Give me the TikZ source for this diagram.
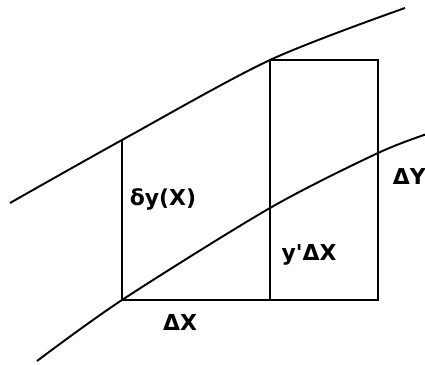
\documentclass[tikz,border=0pt]{standalone}
\usepackage{fontspec}
\setmainfont{DejaVu Sans}
\begin{document}
\begin{tikzpicture}[line width=1.1pt, lbl/.style={font=\fontsize{12.5}{14}\selectfont\bfseries, inner sep=0pt}]
    \useasboundingbox (0,0) rectangle (8.5,7.28);

    % Vertici del rettangolo
    \coordinate (A) at (2.44,1.28);
    \coordinate (B) at (5.4,1.28);
    \coordinate (C) at (7.56,1.28);
    \coordinate (D) at (2.44,4.48);
    \coordinate (E) at (5.4,6.08);
    \coordinate (F) at (7.56,6.08);
    \coordinate (G) at (5.4,3.12); % curva inferiore sul lato centrale
    \coordinate (H) at (7.56,4.22); % curva inferiore sul lato destro

    % Curve
    \draw plot[smooth] coordinates {(0.2,3.22) (D) (E) (8.1,7.12)};
    \draw plot[smooth] coordinates {(0.74,0.06) (A) (G) (H) (8.6,4.62)};

    % Rettangoli
    \draw (D) -- (A) -- (C) -- (F) -- (E) -- (B);

    % Etichette
    \node[lbl] (dy) at (3.26,3.3) {δy(X)};
    \node[lbl] (yd) at (6.18,2.18) {y\textquotesingle ΔX};
    \node[lbl] (dx) at (3.6,0.84) {ΔX};
    \node[lbl, anchor=west] (dY) at (7.84,3.76) {ΔY};
\end{tikzpicture}
\end{document}
